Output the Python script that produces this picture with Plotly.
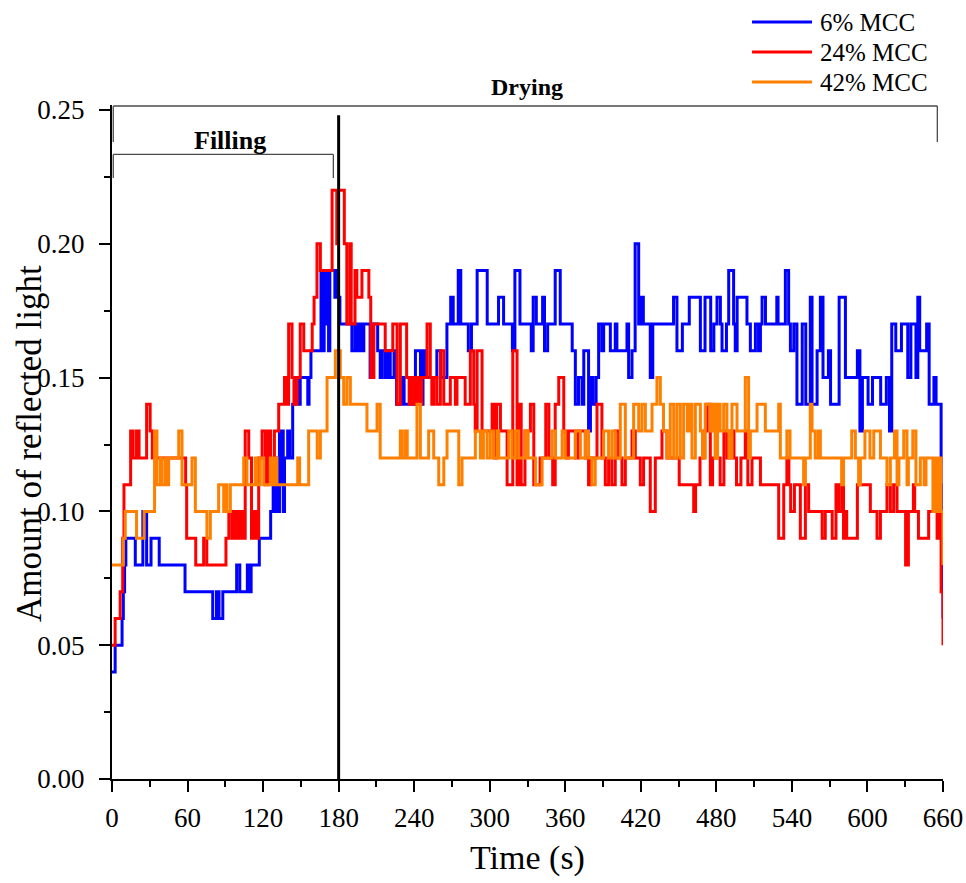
import plotly.graph_objects as go

# ---------------- data (step change points: (time s, value)) ----------------
blue_steps = [
    (0, 0.04), (2.5, 0.05), (8, 0.06), (9, 0.07), (10, 0.08), (11, 0.09), (18.5, 0.08), (24.5, 0.10),
    (27.5, 0.08), (31, 0.09), (37.5, 0.08), (58, 0.07), (80, 0.06), (83, 0.07), (85, 0.06), (88, 0.07),
    (99, 0.08), (101.5, 0.07), (107.5, 0.08), (109.5, 0.07), (110.5, 0.08), (117, 0.09), (126, 0.10),
    (128, 0.11), (129.5, 0.10), (130.5, 0.12), (131.5, 0.10), (133, 0.13), (134, 0.11), (135, 0.13),
    (136, 0.10), (137, 0.12), (139.5, 0.13), (141, 0.12), (143.5, 0.14), (145.5, 0.15), (148.5, 0.14),
    (149.5, 0.15), (155.5, 0.14), (156.5, 0.15), (158, 0.16), (166, 0.19), (167.5, 0.16), (168.5, 0.19),
    (169.5, 0.17), (170.5, 0.19), (172, 0.16), (173, 0.19), (177, 0.18), (178.5, 0.19), (179.5, 0.18),
    (181, 0.17), (190.5, 0.16), (193, 0.17), (195, 0.16), (197, 0.17), (199, 0.16), (200, 0.17),
    (205, 0.15), (207, 0.17), (211, 0.16), (213, 0.15), (214.5, 0.16), (217, 0.15), (219, 0.16),
    (221, 0.15), (224, 0.16), (226, 0.14), (230, 0.15), (232, 0.14), (241, 0.16), (245, 0.14),
    (247, 0.16), (249, 0.15), (258, 0.16), (261, 0.15), (266, 0.17), (269, 0.18), (271, 0.17),
    (275, 0.19), (277, 0.17), (283, 0.16), (285.5, 0.17), (290, 0.19), (298, 0.17), (307, 0.18),
    (311, 0.17), (318, 0.16), (320, 0.19), (324, 0.17), (333, 0.16), (334.5, 0.18), (337, 0.17),
    (342, 0.18), (343.5, 0.16), (346, 0.17), (352, 0.19), (356, 0.17), (365.5, 0.16), (368, 0.14),
    (370.5, 0.15), (373.3, 0.14), (374.7, 0.16), (378.5, 0.13), (380, 0.15), (382, 0.14), (384.5, 0.15),
    (386.5, 0.17), (389, 0.16), (390.5, 0.17), (395.8, 0.16), (399.7, 0.17), (401, 0.16), (409, 0.17),
    (410.3, 0.15), (413, 0.16), (415.5, 0.20), (418.3, 0.17), (420.5, 0.18), (422, 0.17), (427.5, 0.15),
    (429.5, 0.17), (446, 0.18), (448.7, 0.16), (453, 0.17), (458.5, 0.18), (467.3, 0.16), (471, 0.18),
    (475.5, 0.16), (478, 0.17), (480.5, 0.18), (483.2, 0.17), (484.5, 0.16), (488, 0.17), (489.8, 0.19),
    (493.7, 0.17), (495, 0.16), (496.5, 0.18), (504.3, 0.17), (507, 0.16), (511, 0.17), (513.5, 0.16),
    (515, 0.17), (516.3, 0.18), (519, 0.17), (528, 0.18), (529, 0.17), (534.8, 0.19), (537.4, 0.17),
    (538.8, 0.16), (541.5, 0.17), (544, 0.14), (548.2, 0.17), (551, 0.14), (554.6, 0.18), (556, 0.14),
    (560, 0.16), (562.6, 0.18), (564.7, 0.15), (569, 0.16), (570.7, 0.14), (577.5, 0.18), (582.5, 0.15),
    (592, 0.16), (594, 0.13), (596, 0.15), (600.5, 0.14), (604, 0.15), (610.5, 0.14), (615, 0.15),
    (617.5, 0.13), (619.3, 0.17), (622.5, 0.16), (627, 0.17), (632, 0.15), (634.5, 0.17), (638.5, 0.15),
    (640, 0.18), (641.5, 0.16), (647, 0.17), (649, 0.14), (652.8, 0.15), (654.5, 0.14), (658.5, 0.11),
    (659.5, 0.08), (660, 0.06),
]

red_steps = [
    (0, 0.05), (2.5, 0.06), (6.5, 0.07), (8.5, 0.09), (9.5, 0.11), (14.8, 0.13), (16.8, 0.12), (19.5, 0.13),
    (21.5, 0.12), (27.5, 0.14), (30.3, 0.13), (32, 0.12), (58.5, 0.11), (59.3, 0.09), (66.5, 0.08),
    (72.8, 0.09), (75.3, 0.08), (90.5, 0.09), (92.8, 0.10), (95.3, 0.09), (97.2, 0.10), (99.3, 0.09),
    (100.1, 0.10), (101.9, 0.09), (102.5, 0.10), (104, 0.09), (105.8, 0.13), (108.6, 0.12), (110.8, 0.09),
    (113, 0.10), (115, 0.09), (116.5, 0.12), (119.2, 0.13), (121.8, 0.11), (124, 0.13), (126, 0.12),
    (129, 0.13), (132.4, 0.14), (137, 0.15), (138.5, 0.14), (140.3, 0.17), (143, 0.15), (144.5, 0.14),
    (147, 0.15), (149.5, 0.17), (152.3, 0.16), (159, 0.17), (160.5, 0.18), (162.8, 0.20), (165.5, 0.19),
    (174.8, 0.22), (178.5, 0.20), (179.5, 0.22), (184.5, 0.20), (186.5, 0.17), (189, 0.20), (190, 0.17),
    (193, 0.19), (194.5, 0.18), (198.5, 0.19), (204, 0.18), (205.5, 0.15), (208, 0.17), (217, 0.16),
    (223, 0.17), (226.4, 0.14), (229, 0.17), (234, 0.15), (236, 0.14), (238, 0.15), (240, 0.14),
    (242, 0.15), (244, 0.14), (246, 0.15), (250.2, 0.17), (252.8, 0.15), (254, 0.14), (255.5, 0.15),
    (258, 0.14), (260.8, 0.16), (263.5, 0.14), (268.7, 0.15), (272.7, 0.14), (274, 0.15), (280.5, 0.14),
    (284.6, 0.16), (287.3, 0.14), (288.5, 0.13), (290, 0.16), (293.9, 0.13), (301.9, 0.14), (304, 0.12),
    (305.5, 0.14), (308.5, 0.13), (313.8, 0.11), (318.3, 0.16), (321.7, 0.11), (323, 0.14), (325, 0.11),
    (328, 0.13), (332.3, 0.14), (335, 0.11), (340, 0.12), (344.5, 0.14), (347, 0.12), (350, 0.11),
    (352, 0.14), (354.8, 0.15), (358.8, 0.13), (361, 0.12), (362.5, 0.13), (368, 0.12), (370.5, 0.13),
    (375.9, 0.12), (378.5, 0.11), (380, 0.12), (385.2, 0.14), (389.1, 0.12), (391.8, 0.11), (394.4, 0.12),
    (397, 0.11), (399.7, 0.13), (402.4, 0.12), (405, 0.11), (407.7, 0.12), (413, 0.13), (415.6, 0.12),
    (419.6, 0.11), (422.2, 0.12), (427.5, 0.10), (431.5, 0.12), (436.8, 0.13), (440.8, 0.12), (450.5, 0.11),
    (462, 0.10), (463.5, 0.11), (467, 0.12), (470, 0.13), (472.6, 0.14), (475.2, 0.11), (477, 0.12),
    (483, 0.11), (486, 0.13), (488.5, 0.12), (491, 0.13), (494, 0.12), (496, 0.11), (499.5, 0.12),
    (503, 0.13), (505, 0.11), (508.3, 0.12), (515, 0.11), (529.5, 0.09), (533.5, 0.11), (536, 0.12),
    (537.6, 0.11), (539, 0.10), (542, 0.11), (546.7, 0.09), (550.7, 0.11), (553.3, 0.10), (564, 0.09),
    (566.5, 0.10), (572, 0.09), (575, 0.11), (577, 0.10), (579.5, 0.11), (581, 0.09), (582.5, 0.10),
    (583.5, 0.09), (592, 0.11), (602.3, 0.10), (607.6, 0.09), (610.3, 0.10), (615.5, 0.11), (618.2, 0.10),
    (620.8, 0.11), (623.5, 0.10), (630.3, 0.08), (632.5, 0.10), (636.5, 0.11), (637.5, 0.10), (640.5, 0.09),
    (648.6, 0.10), (652.6, 0.11), (655.3, 0.09), (657, 0.10), (658.5, 0.07), (660, 0.05),
]

orange_steps = [
    (0, 0.08), (9, 0.09), (10.5, 0.10), (19.5, 0.09), (25.5, 0.10), (33.8, 0.13), (35.7, 0.11), (38.4, 0.12),
    (39.7, 0.11), (42.3, 0.12), (43.7, 0.11), (45, 0.12), (53, 0.13), (55.6, 0.11), (63.5, 0.12),
    (66.2, 0.10), (75.4, 0.09), (78.1, 0.10), (84.7, 0.11), (88.7, 0.10), (90, 0.11), (91.3, 0.10),
    (94, 0.11), (104.6, 0.12), (107.2, 0.11), (113.8, 0.12), (115.2, 0.11), (117.8, 0.12), (120.5, 0.11),
    (125.7, 0.12), (127.5, 0.11), (129, 0.12), (131, 0.11), (147.5, 0.12), (149, 0.11), (156.2, 0.13),
    (163, 0.12), (165.5, 0.13), (170.8, 0.15), (177.4, 0.16), (181.3, 0.15), (184, 0.14), (186.6, 0.15),
    (189.3, 0.14), (202.5, 0.13), (210.5, 0.14), (213, 0.12), (229, 0.13), (230.5, 0.12), (233, 0.13),
    (234.5, 0.12), (242.2, 0.14), (244.9, 0.12), (251.5, 0.13), (255.5, 0.12), (259.5, 0.11), (263.5, 0.12),
    (266.1, 0.13), (275.4, 0.11), (278, 0.12), (288.6, 0.13), (292.6, 0.12), (295, 0.13), (297.9, 0.12),
    (300.5, 0.13), (303, 0.12), (305.8, 0.13), (307.2, 0.12), (315.1, 0.13), (317.7, 0.12), (320.4, 0.13),
    (323, 0.12), (328, 0.13), (330.5, 0.12), (336.3, 0.11), (341.6, 0.12), (349.5, 0.13), (352.2, 0.12),
    (357.5, 0.13), (360, 0.12), (368.1, 0.13), (372, 0.12), (376, 0.13), (378.5, 0.12), (381.2, 0.11),
    (383.8, 0.12), (390.5, 0.13), (394.4, 0.12), (397, 0.13), (399.7, 0.12), (403.7, 0.14), (407.7, 0.12),
    (414.3, 0.14), (418.3, 0.13), (420.9, 0.14), (423.6, 0.13), (428.9, 0.14), (432.8, 0.15), (435.5, 0.14),
    (438, 0.13), (440.8, 0.12), (443.4, 0.14), (446.1, 0.12), (448.7, 0.14), (451.4, 0.12), (454, 0.14),
    (457, 0.13), (459, 0.14), (460.6, 0.12), (463.3, 0.14), (467.3, 0.13), (469, 0.12), (471.2, 0.14),
    (475.2, 0.13), (477, 0.14), (479, 0.12), (481, 0.14), (483, 0.13), (485.8, 0.14), (488.4, 0.13),
    (490, 0.12), (492.4, 0.14), (496.4, 0.13), (503, 0.15), (505.6, 0.12), (507, 0.13), (512.3, 0.14),
    (518.9, 0.13), (529.5, 0.14), (530.8, 0.12), (536, 0.13), (538.5, 0.12), (549.3, 0.11), (550.7, 0.12),
    (554.6, 0.14), (556, 0.13), (558.5, 0.12), (561, 0.13), (562.6, 0.12), (579.5, 0.11), (581, 0.12),
    (587.5, 0.13), (590.4, 0.12), (593, 0.11), (594.4, 0.12), (598, 0.13), (602, 0.12), (605, 0.13),
    (610.3, 0.12), (615.5, 0.11), (618.2, 0.12), (621.5, 0.13), (623.5, 0.11), (625, 0.12), (628.8, 0.13),
    (631.4, 0.11), (632.5, 0.12), (636, 0.13), (638.5, 0.11), (642, 0.12), (645, 0.11), (646.5, 0.12),
    (652, 0.10), (653.5, 0.12), (655.5, 0.10), (657, 0.12), (658.5, 0.10), (660, 0.08),
]

series_names = ["6% MCC", "24% MCC", "42% MCC"]
series_colors = ["#0000FF", "#FF0000", "#FF8000"]
x_ticks = [0, 60, 120, 180, 240, 300, 360, 420, 480, 540, 600, 660]
y_ticks = [0.00, 0.05, 0.10, 0.15, 0.20, 0.25]
phase_labels = ["Filling", "Drying"]
filling_end = 175.8
drying_end = 655.5
boundary_time = 180

FONT = "Liberation Serif, Times New Roman, serif"
LW = 3

fig = go.Figure()
for name, steps, color in zip(series_names, [blue_steps, red_steps, orange_steps], series_colors):
    t = [s[0] for s in steps]
    v = [s[1] for s in steps]
    fig.add_trace(go.Scatter(x=t, y=v, mode="lines", name=name,
                             line=dict(color=color, width=LW, shape="hv"),
                             showlegend=False))

shapes = []
# vertical boundary line at 180 s
shapes.append(dict(type="line", xref="x", yref="y", x0=boundary_time, x1=boundary_time,
                   y0=0, y1=0.248, line=dict(color="black", width=3)))
bc = "#4a4a4a"
# Drying bracket
shapes.append(dict(type="line", xref="x", yref="paper", x0=1, x1=drying_end, y0=0.9985, y1=0.9985,
                   line=dict(color=bc, width=1.3)))
shapes.append(dict(type="line", xref="x", yref="paper", x0=drying_end, x1=drying_end, y0=0.9985, y1=0.945,
                   line=dict(color=bc, width=1.3)))
shapes.append(dict(type="line", xref="x", yref="paper", x0=1, x1=1, y0=0.9985, y1=0.945,
                   line=dict(color=bc, width=1.3)))
# Filling bracket
shapes.append(dict(type="line", xref="x", yref="paper", x0=1, x1=filling_end, y0=0.9266, y1=0.9266,
                   line=dict(color=bc, width=1.3)))
shapes.append(dict(type="line", xref="x", yref="paper", x0=1, x1=1, y0=0.9266, y1=0.8917,
                   line=dict(color=bc, width=1.3)))
shapes.append(dict(type="line", xref="x", yref="paper", x0=filling_end, x1=filling_end, y0=0.9266, y1=0.8917,
                   line=dict(color=bc, width=1.3)))

annotations = [
    dict(text="<b>" + phase_labels[1] + "</b>", xref="x", yref="paper", x=329.9, y=1.0267, showarrow=False,
         font=dict(family=FONT, size=24, color="black"), xanchor="center", yanchor="middle"),
    dict(text="<b>" + phase_labels[0] + "</b>", xref="x", yref="paper", x=93.6, y=0.948, showarrow=False,
         font=dict(family=FONT, size=26, color="black"), xanchor="center", yanchor="middle"),
    dict(text="Time (s)", xref="paper", yref="paper", x=0.4994, y=-0.1172, showarrow=False,
         font=dict(family=FONT, size=34, color="black"), xanchor="center", yanchor="middle"),
    dict(text="Amount of reflected light", xref="paper", yref="paper", x=-0.0999, y=0.4985,
         showarrow=False, textangle=-90,
         font=dict(family=FONT, size=35, color="black"), xanchor="center", yanchor="middle"),
]

# manual legend (long line samples as in the reference)
leg_y = [1.1231, 1.0786, 1.0341]
for name, color, yy in zip(series_names, series_colors, leg_y):
    shapes.append(dict(type="line", xref="paper", yref="paper", x0=0.7702, x1=0.8424, y0=yy, y1=yy,
                       line=dict(color=color, width=LW)))
    annotations.append(dict(text=name, xref="paper", yref="paper", x=0.8496, y=yy, showarrow=False,
                            xanchor="left", yanchor="middle",
                            font=dict(family=FONT, size=25, color="black")))

fig.update_layout(
    width=966, height=883,
    margin=dict(l=112, r=23, t=105, b=104, autoexpand=False),
    paper_bgcolor="white", plot_bgcolor="white",
    shapes=shapes, annotations=annotations,
    font=dict(family=FONT, color="black"),
    showlegend=False,
)
fig.update_xaxes(range=[0, 660], tickvals=x_ticks, ticktext=[str(v) for v in x_ticks],
                 automargin=False,
                 showgrid=False, zeroline=False, showline=True, linecolor="black", linewidth=2,
                 ticks="outside", ticklen=11, tickwidth=2, tickcolor="black",
                 minor=dict(dtick=30, tick0=0, ticks="outside", ticklen=6, tickwidth=2, tickcolor="black"),
                 tickfont=dict(family=FONT, size=27, color="black"), ticklabelstandoff=3)
fig.update_yaxes(range=[0, 0.25187], tickvals=y_ticks, ticktext=[f"{v:.2f}" for v in y_ticks],
                 automargin=False,
                 showgrid=False, zeroline=False, showline=True, linecolor="black", linewidth=2,
                 ticks="outside", ticklen=11, tickwidth=2, tickcolor="black",
                 minor=dict(dtick=0.025, tick0=0, ticks="outside", ticklen=6, tickwidth=2, tickcolor="black"),
                 tickfont=dict(family=FONT, size=27, color="black"), ticklabelstandoff=9)

fig.write_html("out.html")
